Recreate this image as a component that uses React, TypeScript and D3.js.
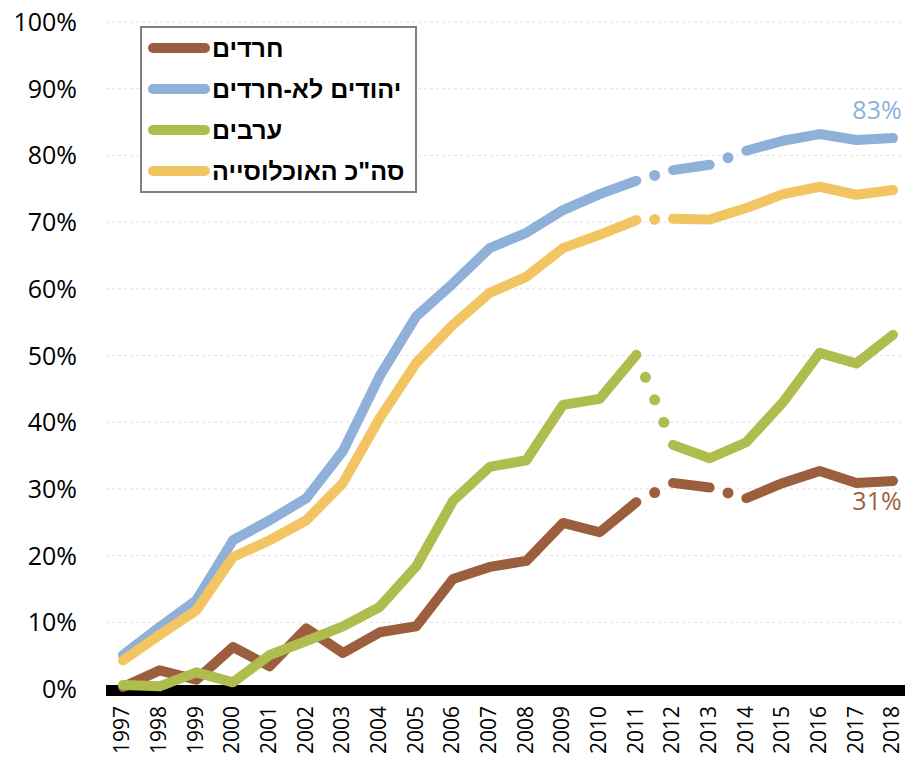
import React from "react";
import * as d3 from "d3";

const years = [1997,1998,1999,2000,2001,2002,2003,2004,2005,2006,2007,2008,2009,2010,2011,2012,2013,2014,2015,2016,2017,2018];

const haredim = [0.3,2.8,1.4,6.3,3.4,9.1,5.4,8.5,9.4,16.5,18.3,19.2,24.9,23.5,28.0,30.9,30.2,28.6,30.9,32.7,30.9,31.2];
const jewsNonHaredi = [5.1,9.3,13.3,22.3,25.3,28.6,35.7,46.9,55.9,60.8,66.1,68.4,71.8,74.2,76.2,77.8,78.6,80.7,82.2,83.2,82.3,82.6];
const arabs = [0.6,0.4,2.5,1.0,5.1,7.2,9.4,12.3,18.4,28.2,33.3,34.3,42.6,43.5,50.1,36.6,34.6,37.0,43.0,50.4,48.8,53.1];
const total = [4.3,8.1,11.8,19.8,22.3,25.3,30.9,40.6,48.9,54.6,59.4,61.8,66.1,68.1,70.3,70.5,70.4,72.1,74.2,75.3,74.1,74.8];

const seriesNames = ["חרדים", "יהודים לא-חרדים", "ערבים", 'סה"כ האוכלוסייה'];
const seriesColors = ["#9C5F3E", "#8EB0D9", "#AEBD4D", "#F2C562"];
const seriesValues = [haredim, jewsNonHaredi, arabs, total];
// index i means segment from years[i] to years[i+1] is dotted
const dottedSegments = [[14, 16], [14, 16], [14], [14]];

const yTicks = [0,10,20,30,40,50,60,70,80,90,100];
const endLabels = [
  { series: 1, text: "83%" },
  { series: 0, text: "31%" },
];

const W = 905, H = 762;
const x = d3.scalePoint<number>().domain(years).range([123, 893]);
const y = d3.scaleLinear().domain([0, 100]).range([689, 22]);
const numFont = "'Open Sans', 'DejaVu Sans', sans-serif";
const hebFont = "'Liberation Sans', Arial, 'DejaVu Sans', sans-serif";

function buildSeries(vals: number[], dotted: number[]) {
  const pts = vals.map((v, i) => [x(years[i]) as number, y(v)] as [number, number]);
  const runs: [number, number][][] = [];
  let cur: [number, number][] = [pts[0]];
  const dots: [number, number][] = [];
  for (let i = 0; i < pts.length - 1; i++) {
    if (dotted.includes(i)) {
      if (cur.length > 1) runs.push(cur);
      const [x0, y0] = pts[i];
      const [x1, y1] = pts[i + 1];
      const len = Math.hypot(x1 - x0, y1 - y0);
      const n = Math.max(1, Math.round(len / 25) - 1);
      for (let k = 1; k <= n; k++) {
        const t = k / (n + 1);
        dots.push([x0 + (x1 - x0) * t, y0 + (y1 - y0) * t]);
      }
      cur = [pts[i + 1]];
    } else {
      cur.push(pts[i + 1]);
    }
  }
  if (cur.length > 1) runs.push(cur);
  return { runs, dots, pts };
}

const line = d3.line<[number, number]>();

export default function App() {
  const built = seriesValues.map((v, i) => buildSeries(v, dottedSegments[i]));
  return (
    <svg width={W} height={H} style={{ position: "absolute", left: 0, top: 0, background: "#fff" }}>
      {yTicks.map((t) => (
        <g key={t}>
          {t > 0 && (
            <line x1={106} x2={905} y1={y(t)} y2={y(t)} stroke="#e3e3e3" strokeWidth={1} strokeDasharray="3,3" />
          )}
          <text x={77} y={y(t) + 9} textAnchor="end" fontFamily={numFont} fontSize={25} fill="#000">
            {t}%
          </text>
        </g>
      ))}
      {years.map((yr) => (
        <text
          key={yr}
          transform={`translate(${x(yr) as number},706) rotate(-90)`}
          textAnchor="end"
          dy="0.3em"
          fontFamily={numFont}
          fontSize={21}
          fill="#000"
        >
          {yr}
        </text>
      ))}
      <rect x={106} y={685} width={799} height={11} fill="#000" />
      {built.map((b, si) => (
        <g key={si}>
          {b.runs.map((r, ri) => (
            <path
              key={ri}
              d={line(r) || ""}
              fill="none"
              stroke={seriesColors[si]}
              strokeWidth={10}
              strokeLinecap="round"
              strokeLinejoin="round"
            />
          ))}
          {b.dots.map((d, di) => (
            <circle key={di} cx={d[0]} cy={d[1]} r={5.5} fill={seriesColors[si]} />
          ))}
        </g>
      ))}
      {endLabels.map((l) => {
        const vals = seriesValues[l.series];
        const last = vals[vals.length - 1];
        const yy = l.series === 1 ? y(last) - 19 : y(last) + 29;
        return (
          <text key={l.text} x={877} y={yy} textAnchor="middle" fontFamily={numFont} fontSize={25} fill={seriesColors[l.series]}>
            {l.text}
          </text>
        );
      })}
      <rect x={141} y={27} width={275} height={165} fill="#fff" stroke="#808080" strokeWidth={2} />
      {seriesNames.map((n, i) => {
        const yy = 48 + i * 41;
        return (
          <g key={n}>
            <line x1={153} x2={205} y1={yy} y2={yy} stroke={seriesColors[i]} strokeWidth={10} strokeLinecap="round" />
            <text x={212} y={yy + 9} fontFamily={hebFont} fontWeight="bold" fontSize={25} fill="#000">
              {n}
            </text>
          </g>
        );
      })}
    </svg>
  );
}
